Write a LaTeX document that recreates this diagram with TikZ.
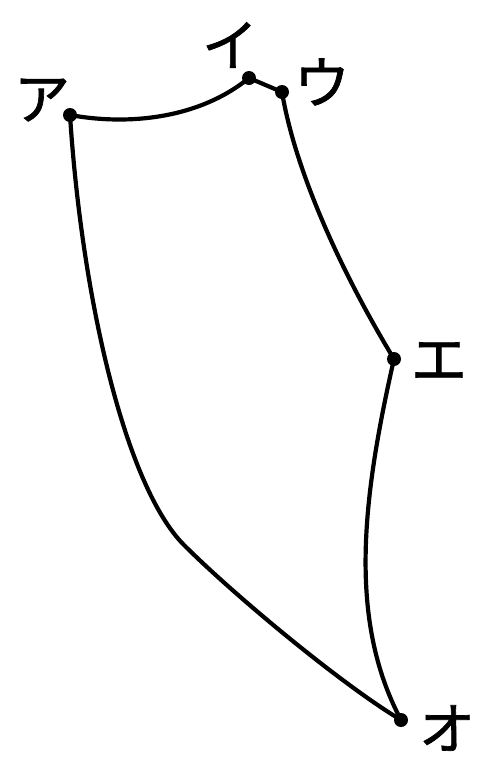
\documentclass[tikz,border=0pt]{standalone}
\usepackage{fontspec}
\newfontfamily\jpfont{Noto Sans CJK JP}[BoldFont=*,BoldFeatures={FakeBold=1.2}]
\begin{document}
\begin{tikzpicture}[x=1pt,y=-1pt,
  curve/.style={line width=4.2pt,line cap=round,line join=round},
  pt/.style={circle,fill=black,inner sep=0pt,minimum size=14pt},
  lbl/.style={font=\jpfont\bfseries\fontsize{56}{56}\selectfont,inner sep=0pt}]
\useasboundingbox[fill=white] (0,0) rectangle (496,772);
\coordinate (A) at (70,115);
\coordinate (I) at (249,78);
\coordinate (U) at (282,92);
\coordinate (E) at (394,359);
\coordinate (O) at (401,720);
\coordinate (M) at (184,545);
\draw[curve] (A) .. controls (130,126) and (200,118) .. (I);
\draw[curve] (I) -- (U);
\draw[curve] (U) .. controls (295,170) and (340,270) .. (E);
\draw[curve] (E) .. controls (362,500) and (348,620) .. (O);
\draw[curve] (A) .. controls (82,300) and (126,487) .. (M)
  .. controls (234,595) and (341,684) .. (O);
\node[pt] (dA) at (A) {};
\node[pt] (dI) at (I) {};
\node[pt] (dU) at (U) {};
\node[pt] (dE) at (E) {};
\node[pt] (dO) at (O) {};
\node[lbl] (lA) at (42,100) {ア};
\node[lbl] (lI) at (230,45) {イ};
\node[lbl] (lU) at (322,82) {ウ};
\node[lbl] (lE) at (439,361) {エ};
\node[lbl] (lO) at (447,728) {オ};
\end{tikzpicture}
\end{document}
